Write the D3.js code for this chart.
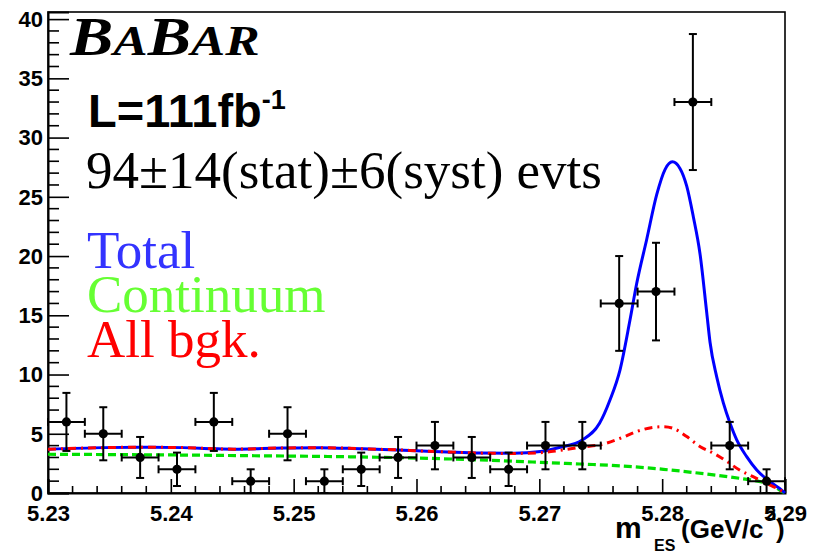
<!DOCTYPE html>
<html>
<head>
<meta charset="utf-8">
<script src="https://cdn.jsdelivr.net/npm/d3@7"></script>
<style>
  html, body { margin: 0; padding: 0; background: #fff; }
  svg { display: block; }
</style>
</head>
<body>
<svg id="chart" width="813" height="552"></svg>
<script>
// m_ES bin centres (GeV/c^2), bin width 0.003
const binCenters = [5.2315, 5.2345, 5.2375, 5.2405, 5.2435, 5.2465, 5.2495, 5.2525, 5.2555, 5.2585,
                    5.2615, 5.2645, 5.2675, 5.2705, 5.2735, 5.2765, 5.2795, 5.2825, 5.2855, 5.2885];
const binHalfWidth = 0.0015;
// events per bin and their statistical errors
const counts = [6, 5, 3, 2, 6, 1, 5, 1, 2, 3, 4, 3, 2, 4, 4, 16, 17, 33, 4, 1];
const countErrors = [2.45, 2.24, 1.73, 1.41, 2.45, 1, 2.24, 1, 1.41, 1.73,
                     2, 1.73, 1.41, 2, 2, 4, 4.12, 5.74, 2, 1];

// fitted curves: [m_ES, events]
const totalCurve = [
  [5.2300, 3.69], [5.2345, 3.83], [5.2375, 3.86], [5.2410, 3.83], [5.2434, 3.74], [5.2451, 3.70],
  [5.2491, 3.80], [5.2521, 3.83], [5.2554, 3.74], [5.2584, 3.64], [5.2600, 3.57], [5.2625, 3.46],
  [5.2652, 3.37], [5.2679, 3.36], [5.2701, 3.50], [5.2717, 3.86], [5.2735, 4.48], [5.2749, 5.88],
  [5.27575, 7.85], [5.27657, 10.4], [5.27738, 14.6], [5.27793, 17.7], [5.27874, 21.4], [5.27956, 25.2],
  [5.28023, 27.3], [5.28083, 27.95], [5.28145, 27.4], [5.28200, 25.9], [5.28254, 23.3], [5.28308, 20.2],
  [5.28363, 15.2], [5.28390, 12.7], [5.28444, 9.8], [5.28498, 7.6], [5.28552, 5.9], [5.28607, 4.48],
  [5.28688, 3.07], [5.28770, 1.94], [5.28878, 0.95], [5.28973, 0.25], [5.2900, 0]
];
const allBkgCurve = [
  [5.2300, 3.69], [5.2345, 3.83], [5.2375, 3.86], [5.2410, 3.83], [5.2434, 3.74], [5.2451, 3.70],
  [5.2491, 3.80], [5.2521, 3.83], [5.2554, 3.74], [5.2584, 3.64], [5.2600, 3.57], [5.2625, 3.46],
  [5.2652, 3.37], [5.2679, 3.34], [5.2701, 3.40], [5.2717, 3.60], [5.2735, 3.88], [5.2751, 4.10],
  [5.2766, 4.62], [5.2779, 5.18], [5.2793, 5.55], [5.2801, 5.60], [5.2809, 5.46], [5.2820, 4.76],
  [5.2831, 3.91], [5.2842, 3.35], [5.2853, 2.64], [5.2863, 1.94], [5.2874, 1.38], [5.2885, 0.82],
  [5.2896, 0.25], [5.2900, 0]
];
const continuumCurve = [
  [5.2300, 3.27], [5.2400, 3.21], [5.2463, 3.15], [5.2550, 3.05], [5.2600, 2.95], [5.2652, 2.79],
  [5.2701, 2.59], [5.2733, 2.45], [5.2768, 2.28], [5.2801, 2.00], [5.2836, 1.60], [5.2863, 1.24],
  [5.2880, 0.95], [5.2891, 0.59], [5.2897, 0.15], [5.2900, 0]
];

// axis ticks
const xMajorTicks = [5.23, 5.24, 5.25, 5.26, 5.27, 5.28, 5.29];
const xTickLabels = ["5.23", "5.24", "5.25", "5.26", "5.27", "5.28", "5.29"];
const yMajorTicks = [0, 5, 10, 15, 20, 25, 30, 35, 40];

const svg = d3.select("#chart");
const frame = { left: 48, right: 785, top: 12, bottom: 493 };

const x = d3.scaleLinear().domain([5.23, 5.29]).range([frame.left, frame.right]);
const y = d3.scaleLinear().domain([0, 40.6]).range([frame.bottom, frame.top]);

const xMinor = d3.range(0, 31).map(i => 5.23 + i * 0.002);
const yMinor = d3.range(0, 41);

// frame
svg.append("rect")
  .attr("x", frame.left).attr("y", frame.top)
  .attr("width", frame.right - frame.left).attr("height", frame.bottom - frame.top)
  .attr("fill", "none").attr("stroke", "#000").attr("stroke-width", 1.6);

// x axis: ticks point into the frame
const xAxis = d3.axisBottom(x).tickValues(xMajorTicks)
  .tickSize(-14).tickFormat((d, i) => xTickLabels[i]).tickPadding(0);
const gx = svg.append("g").attr("transform", `translate(0,${frame.bottom})`).call(xAxis);
gx.select(".domain").attr("stroke", "#000").attr("stroke-width", 2);
gx.selectAll(".tick line").attr("stroke", "#000").attr("stroke-width", 1.6);
gx.selectAll(".tick text")
  .attr("y", 28).attr("dy", 0)
  .attr("font-family", "'Liberation Sans', Arial, sans-serif")
  .attr("font-weight", "bold").attr("font-size", 22).attr("fill", "#000");
svg.append("g").selectAll("line").data(xMinor.filter(v => !xMajorTicks.some(t => Math.abs(t - v) < 1e-6)))
  .join("line")
  .attr("x1", d => x(d)).attr("x2", d => x(d))
  .attr("y1", frame.bottom).attr("y2", frame.bottom - 7)
  .attr("stroke", "#000").attr("stroke-width", 1.6);

// y axis: ticks point into the frame
const yAxis = d3.axisLeft(y).tickValues(yMajorTicks).tickSize(-21).tickPadding(0);
const gy = svg.append("g").attr("transform", `translate(${frame.left},0)`).call(yAxis);
gy.select(".domain").attr("stroke", "#000").attr("stroke-width", 2);
gy.selectAll(".tick line").attr("stroke", "#000").attr("stroke-width", 1.6);
gy.selectAll(".tick text")
  .attr("x", -5).attr("dy", "0.33em")
  .attr("font-family", "'Liberation Sans', Arial, sans-serif")
  .attr("font-weight", "bold").attr("font-size", 22).attr("fill", "#000");
svg.append("g").selectAll("line").data(yMinor.filter(v => v % 5 !== 0))
  .join("line")
  .attr("x1", frame.left).attr("x2", frame.left + 11)
  .attr("y1", d => y(d)).attr("y2", d => y(d))
  .attr("stroke", "#000").attr("stroke-width", 1.6);

// fit curves
const line = d3.line().x(d => x(d[0])).y(d => y(d[1])).curve(d3.curveMonotoneX);
svg.append("path").datum(continuumCurve).attr("d", line)
  .attr("fill", "none").attr("stroke", "#00e000").attr("stroke-width", 3.2)
  .attr("stroke-dasharray", "8,4");
svg.append("path").datum(totalCurve).attr("d", line)
  .attr("fill", "none").attr("stroke", "#0000ff").attr("stroke-width", 3);
svg.append("path").datum(allBkgCurve).attr("d", line)
  .attr("fill", "none").attr("stroke", "#ff0000").attr("stroke-width", 3)
  .attr("stroke-dasharray", "8,5,2,5");

// data points with error bars
const pts = binCenters.map((m, i) => ({ m, n: counts[i], e: countErrors[i] }));
const gp = svg.append("g").attr("stroke", "#000").attr("stroke-width", 2);
const cap = 4;
pts.forEach(p => {
  const cx = x(p.m), cy = y(p.n);
  const yTop = y(p.n + p.e), yBot = y(Math.max(0, p.n - p.e));
  const xl = x(p.m - binHalfWidth), xr = x(p.m + binHalfWidth);
  gp.append("line").attr("x1", cx).attr("x2", cx).attr("y1", yTop).attr("y2", yBot);
  gp.append("line").attr("x1", cx - cap).attr("x2", cx + cap).attr("y1", yTop).attr("y2", yTop);
  gp.append("line").attr("x1", cx - cap).attr("x2", cx + cap).attr("y1", yBot).attr("y2", yBot);
  gp.append("line").attr("x1", xl).attr("x2", xr).attr("y1", cy).attr("y2", cy);
  gp.append("line").attr("x1", xl).attr("x2", xl).attr("y1", cy - cap).attr("y2", cy + cap);
  gp.append("line").attr("x1", xr).attr("x2", xr).attr("y1", cy - cap).attr("y2", cy + cap);
});
svg.append("g").selectAll("circle").data(pts).join("circle")
  .attr("cx", d => x(d.m)).attr("cy", d => y(d.n)).attr("r", 4.6).attr("fill", "#000");

// experiment logo
const logo = svg.append("text")
  .attr("transform", "translate(70,55) scale(1.2,1)")
  .attr("font-family", "'Liberation Serif', 'Times New Roman', serif")
  .attr("font-weight", "bold").attr("font-style", "italic").attr("fill", "#000");
logo.append("tspan").attr("font-size", 54).text("B");
logo.append("tspan").attr("font-size", 43).text("A");
logo.append("tspan").attr("font-size", 54).text("B");
logo.append("tspan").attr("font-size", 43).text("AR");

// luminosity
const lum = svg.append("text").attr("x", 88).attr("y", 127)
  .attr("font-family", "'Liberation Sans', Arial, sans-serif")
  .attr("font-weight", "bold").attr("font-size", 47).attr("fill", "#000");
lum.append("tspan").text("L=111fb");
lum.append("tspan").attr("font-size", 27).attr("dy", -18).text("-1");

// signal yield
svg.append("text").attr("x", 86).attr("y", 188)
  .attr("font-family", "'Liberation Serif', 'Times New Roman', serif")
  .attr("font-size", 53).attr("fill", "#000")
  .text("94\u00B114(stat)\u00B16(syst) evts");

// legend
const legendItems = [
  { label: "Total", color: "#3333ff", y: 268 },
  { label: "Continuum", color: "#66ff33", y: 312 },
  { label: "All bgk.", color: "#ff0000", y: 357 }
];
svg.append("g").selectAll("text").data(legendItems).join("text")
  .attr("x", 87).attr("y", d => d.y)
  .attr("font-family", "'Liberation Serif', 'Times New Roman', serif")
  .attr("font-size", 53).attr("fill", d => d.color)
  .text(d => d.label);

// x-axis title
const xt = svg.append("text")
  .attr("font-family", "'Liberation Sans', Arial, sans-serif")
  .attr("font-weight", "bold").attr("fill", "#000");
xt.append("tspan").attr("x", 615).attr("y", 538).attr("font-size", 30).text("m");
xt.append("tspan").attr("x", 654).attr("y", 551).attr("font-size", 16).text("ES");
xt.append("tspan").attr("x", 681).attr("y", 538).attr("font-size", 26).text("(GeV/c");
xt.append("tspan").attr("x", 766).attr("y", 520).attr("font-size", 18).text("2");
xt.append("tspan").attr("x", 776).attr("y", 538).attr("font-size", 26).text(")");
</script>
</body>
</html>
